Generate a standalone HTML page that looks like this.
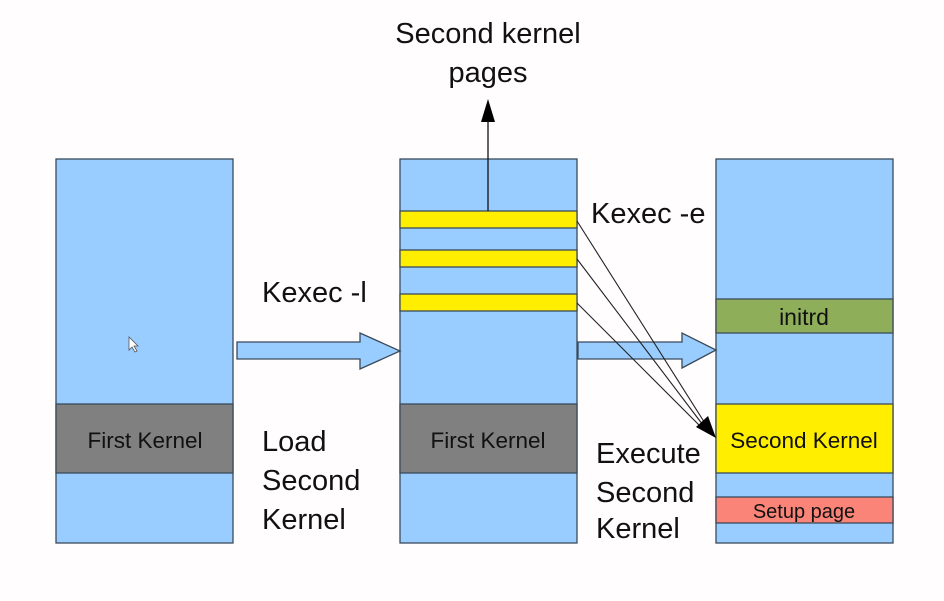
<!DOCTYPE html>
<html><head><meta charset="utf-8"><style>
html,body{margin:0;padding:0;background:#fffdfe;}
svg{display:block;}
text{font-family:"Liberation Sans",sans-serif;fill:#111;}
</style></head><body>
<svg width="944" height="601" viewBox="0 0 944 601" xmlns="http://www.w3.org/2000/svg">
<rect width="944" height="601" fill="#fffdfe"/>
<g stroke="#3a4a5a" stroke-width="1.3">
<rect x="56" y="159" width="177" height="384" fill="#99ccff"/>
<rect x="56" y="404" width="177" height="69" fill="#808080"/>
<rect x="400" y="159" width="177" height="384" fill="#99ccff"/>
<rect x="400" y="211" width="177" height="17" fill="#ffee00"/>
<rect x="400" y="250" width="177" height="17" fill="#ffee00"/>
<rect x="400" y="294" width="177" height="17" fill="#ffee00"/>
<rect x="400" y="404" width="177" height="69" fill="#808080"/>
<rect x="716" y="159" width="177" height="384" fill="#99ccff"/>
<rect x="716" y="299" width="177" height="34" fill="#8fae5a"/>
<rect x="716" y="404" width="177" height="69" fill="#ffee00"/>
<rect x="716" y="497" width="177" height="26" fill="#fa8478"/>
<polygon points="237,342 360,342 360,333 400,351 360,369 360,359 237,359" fill="#99ccff"/>
<polygon points="578,342 682,342 682,333 716,350 682,368 682,359 578,359" fill="#99ccff"/>
</g>
<line x1="488" y1="211" x2="488" y2="118" stroke="#111" stroke-width="1.3"/>
<polygon points="488,99 481,122 495,122" fill="#000"/>
<g stroke="#222" stroke-width="1.1">
<line x1="577" y1="221" x2="708" y2="428"/>
<line x1="577" y1="259" x2="706" y2="429"/>
<line x1="577" y1="303" x2="704" y2="430"/>
</g>
<polygon points="716,438 696,427 708,416" fill="#000"/>
<polygon points="129,337 129,350 132,347 135,352 137,351 134,346 138,346" fill="#fff" stroke="#555" stroke-width="0.8"/>
<text x="488" y="43" font-size="29" text-anchor="middle">Second kernel</text>
<text x="488" y="82" font-size="29" text-anchor="middle">pages</text>
<text x="591" y="223" font-size="29">Kexec -e</text>
<text x="262" y="302" font-size="29">Kexec -l</text>
<text x="262" y="451" font-size="29">Load</text>
<text x="262" y="490" font-size="29">Second</text>
<text x="262" y="529" font-size="29">Kernel</text>
<text x="596" y="463" font-size="29">Execute</text>
<text x="596" y="502" font-size="29">Second</text>
<text x="596" y="538" font-size="29">Kernel</text>
<text x="145" y="448" font-size="22.5" text-anchor="middle" fill="#222">First Kernel</text>
<text x="488" y="448" font-size="22.5" text-anchor="middle" fill="#222">First Kernel</text>
<text x="804" y="325" font-size="23" text-anchor="middle">initrd</text>
<text x="804" y="448" font-size="22.5" text-anchor="middle">Second Kernel</text>
<text x="804" y="518" font-size="20" text-anchor="middle">Setup page</text>
</svg>
</body></html>
